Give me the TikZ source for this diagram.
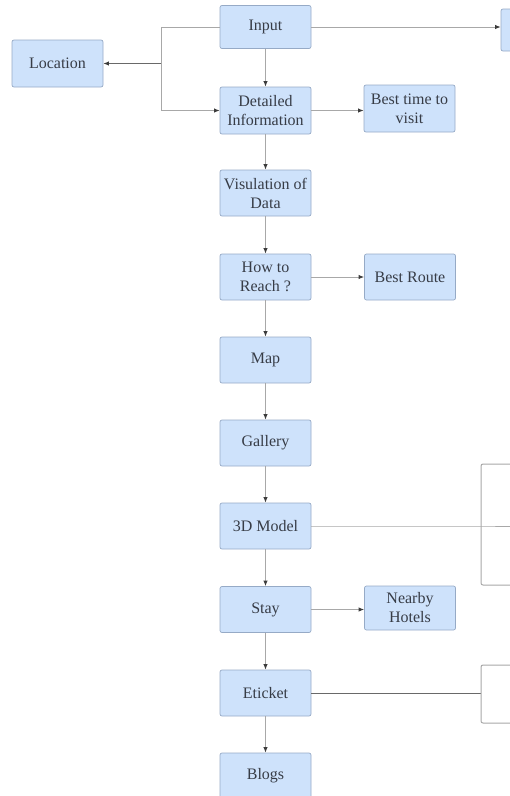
\documentclass[tikz,border=0pt]{standalone}
\usepackage{fontspec}
\setmainfont{Liberation Serif}
\usetikzlibrary{arrows.meta}

\definecolor{boxfill}{RGB}{206,226,251}
\definecolor{boxline}{RGB}{150,170,198}
\definecolor{wiregray}{RGB}{168,168,168}
\definecolor{darkwire}{RGB}{105,105,105}
\definecolor{tipgray}{RGB}{60,60,60}
\definecolor{textgray}{RGB}{55,60,70}

\tikzset{
	block/.style={draw=boxline, fill=boxfill, rounded corners=2pt, line width=0.7pt, minimum width=91pt, minimum height=46pt, inner sep=0pt, align=center, text=textgray, font=\fontsize{16}{19}\selectfont},
	link/.style={wiregray, line width=1pt},
	heavy/.style={darkwire, line width=1pt},
	arrow/.style={link, -{Latex[length=5.5pt,width=4.5pt,color=tipgray]}}
}

\begin{document}
\begin{tikzpicture}[x=1pt,y=-1pt]
\useasboundingbox (0,0) rectangle (510,796);
\clip (0,0) rectangle (510,796);

% boxes
\node (input) at (265.5,27) [block, minimum height=43pt] {Input};
\node (location) at (57.5,63.5) [block, minimum height=47pt] {Location};
\node (detail) at (265.5,110.5) [block, minimum height=47pt] {Detailed\\Information};
\node (besttime) at (409.5,108.5) [block, minimum height=47pt] {Best time to\\visit};
\node (visual) at (265.5,193) [block] {Visulation of\\Data};
\node (reach) at (265.5,277) [block] {How to\\Reach ?};
\node (route) at (410,277) [block] {Best Route};
\node (map) at (265.5,360) [block] {Map};
\node (gallery) at (265.5,443) [block] {Gallery};
\node (model) at (265.5,526) [block] {3D Model};
\node (stay) at (265.5,609.5) [block] {Stay};
\node (hotels) at (410,608) [block, minimum height=44pt] {Nearby\\Hotels};
\node (eticket) at (265.5,693) [block] {Eticket};
\node (blogs) at (265.5,776) [block] {Blogs};
\node (outer) at (546.5,30) [block, minimum height=42pt] {};

% split from input
\coordinate (split) at (161,63.5);
\draw [link] (input.west) -| (split);
\draw [arrow, heavy] (split) -- (location.east);
\draw [arrow] (split) |- (detail.west);
\draw [arrow] (input.east) -- (input.east -| outer.west);

% main column
\foreach \a/\b in {input/detail, detail/visual, visual/reach, reach/map, map/gallery, gallery/model, model/stay, stay/eticket, eticket/blogs}
	\draw [arrow] (\a) -- (\b);

\draw [arrow] (detail.east) -- (detail.east -| besttime.west);
\draw [arrow] (reach) -- (route);
\draw [arrow] (stay.east) -- (stay.east -| hotels.west);

% forks on the right
\coordinate (fork3d) at (481,526);
\coordinate (edge3d) at (510,526);
\coordinate (top3d) at (510,464);
\coordinate (bot3d) at (510,585);
\draw [link] (model.east) -- (fork3d) -- (edge3d);
\draw [link, rounded corners=2pt] (top3d) -| (fork3d) |- (bot3d);

\coordinate (forkticket) at (481,693);
\coordinate (topticket) at (510,665);
\coordinate (botticket) at (510,723);
\draw [heavy] (eticket.east) -- (forkticket);
\draw [link, rounded corners=2pt] (topticket) -| (forkticket) |- (botticket);

\end{tikzpicture}
\end{document}
